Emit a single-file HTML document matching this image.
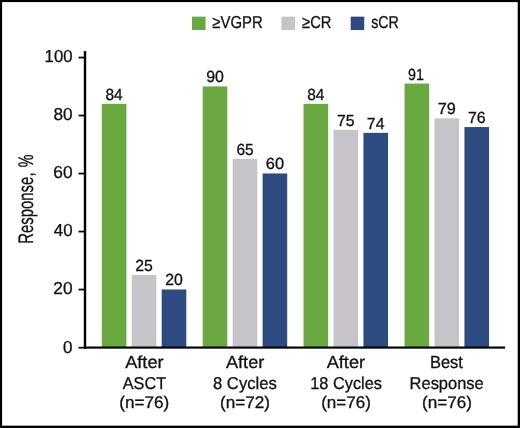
<!DOCTYPE html>
<html lang="en"><head><meta charset="utf-8"><title>Response chart</title>
<style>html,body{margin:0;padding:0;background:#fff}svg{display:block}text{font-family:"Liberation Sans", Arial, Helvetica, sans-serif;fill:#111;stroke:#111;stroke-width:0.3px;stroke-linejoin:round;text-rendering:geometricPrecision}</style></head>
<body>
<svg width="520" height="428" viewBox="0 0 520 428">
<rect x="0" y="0" width="520" height="428" fill="#000"/>
<rect x="2.1" y="2.1" width="515.6" height="423.55" fill="#fff"/>
<rect x="192" y="16.65" width="13.55" height="13.4" fill="#6aa842"/>
<rect x="281.45" y="16.65" width="13.55" height="13.4" fill="#c6c4c9"/>
<rect x="350.7" y="16.65" width="13.55" height="13.4" fill="#2d4b7e"/>
<text transform="translate(212.37,27.95) scale(0.8650,1)" font-size="17.22">≥VGPR</text>
<text transform="translate(302.07,27.95) scale(0.8561,1)" font-size="17.22">≥CR</text>
<text transform="translate(371.16,27.95) scale(0.8290,1)" font-size="17.22">sCR</text>
<rect x="101.80" y="103.85" width="24.6" height="243.60" fill="#6aa842"/>
<text transform="translate(105.49,99.85) scale(0.9614,1)" font-size="16.10">84</text>
<rect x="131.75" y="274.95" width="24.6" height="72.50" fill="#c6c4c9"/>
<text transform="translate(135.31,270.95) scale(0.9803,1)" font-size="16.10">25</text>
<rect x="161.70" y="289.45" width="24.6" height="58.00" fill="#2d4b7e"/>
<text transform="translate(165.21,285.45) scale(0.9840,1)" font-size="16.10">20</text>
<rect x="202.70" y="86.45" width="24.6" height="261.00" fill="#6aa842"/>
<text transform="translate(206.19,82.45) scale(0.9876,1)" font-size="16.10">90</text>
<rect x="232.65" y="158.95" width="24.6" height="188.50" fill="#c6c4c9"/>
<text transform="translate(236.38,154.95) scale(0.9620,1)" font-size="16.10">65</text>
<rect x="262.60" y="173.45" width="24.6" height="174.00" fill="#2d4b7e"/>
<text transform="translate(265.78,169.45) scale(1.0204,1)" font-size="16.10">60</text>
<rect x="303.55" y="103.85" width="24.6" height="243.60" fill="#6aa842"/>
<text transform="translate(307.24,99.85) scale(0.9614,1)" font-size="16.10">84</text>
<rect x="333.50" y="129.95" width="24.6" height="217.50" fill="#c6c4c9"/>
<text transform="translate(337.02,125.95) scale(0.9827,1)" font-size="16.10">75</text>
<rect x="363.45" y="132.85" width="24.6" height="214.60" fill="#2d4b7e"/>
<text transform="translate(366.87,128.85) scale(0.9828,1)" font-size="16.10">74</text>
<rect x="404.55" y="83.55" width="24.6" height="263.90" fill="#6aa842"/>
<text transform="translate(407.97,79.55) scale(0.8872,1)" font-size="16.10">91</text>
<rect x="434.50" y="118.35" width="24.6" height="229.10" fill="#c6c4c9"/>
<text transform="translate(437.79,114.35) scale(1.0121,1)" font-size="16.10">79</text>
<rect x="464.45" y="127.05" width="24.6" height="220.40" fill="#2d4b7e"/>
<text transform="translate(467.97,123.05) scale(0.9851,1)" font-size="16.10">76</text>
<rect x="83.8" y="51.1" width="2.4" height="297.55" fill="#000"/>
<rect x="83.8" y="346.5" width="421.3" height="2.15" fill="#000"/>
<rect x="78.55" y="346.82" width="6" height="1.75" fill="#000"/>
<text transform="translate(63.07,352.55) scale(0.9825,1)" font-size="17.37">0</text>
<rect x="78.55" y="288.68" width="6" height="1.75" fill="#000"/>
<text transform="translate(53.28,294.40) scale(0.9992,1)" font-size="17.37">20</text>
<rect x="78.55" y="230.68" width="6" height="1.75" fill="#000"/>
<text transform="translate(53.77,236.40) scale(0.9731,1)" font-size="17.37">40</text>
<rect x="78.55" y="172.68" width="6" height="1.75" fill="#000"/>
<text transform="translate(53.28,178.40) scale(0.9992,1)" font-size="17.37">60</text>
<rect x="78.55" y="114.68" width="6" height="1.75" fill="#000"/>
<text transform="translate(53.42,120.40) scale(0.9919,1)" font-size="17.37">80</text>
<rect x="78.55" y="56.68" width="6" height="1.75" fill="#000"/>
<text transform="translate(44.59,62.40) scale(0.9643,1)" font-size="17.37">100</text>
<text transform="translate(32.50,243.73) rotate(-90) scale(0.7045,1)" font-size="21.08">Response<tspan x="95.51">,</tspan> <tspan x="108.62" textLength="18.06" lengthAdjust="spacingAndGlyphs">%</tspan></text>
<text transform="translate(125.15,368.30) scale(1.0427,1)" font-size="17.44">After</text>
<text transform="translate(122.71,388.50) scale(0.9497,1)" font-size="17.15">ASCT</text>
<text transform="translate(119.28,408.40) scale(1.0152,1)" font-size="16.86">(n=76)</text>
<text transform="translate(225.90,368.30) scale(1.0427,1)" font-size="17.44">After</text>
<text transform="translate(212.94,388.50) scale(0.9729,1)" font-size="17.15">8 Cycles</text>
<text transform="translate(220.03,408.40) scale(1.0152,1)" font-size="16.86">(n=72)</text>
<text transform="translate(326.65,368.30) scale(1.0427,1)" font-size="17.44">After</text>
<text transform="translate(310.28,388.50) scale(0.9522,1)" font-size="17.15">18 Cycles</text>
<text transform="translate(321.13,408.40) scale(1.0110,1)" font-size="16.86">(n=76)</text>
<text transform="translate(429.94,368.30) scale(0.9425,1)" font-size="17.44">Best</text>
<text transform="translate(409.59,388.50) scale(0.9603,1)" font-size="17.15">Response</text>
<text transform="translate(422.03,408.40) scale(1.0152,1)" font-size="16.86">(n=76)</text>
</svg>
</body></html>
